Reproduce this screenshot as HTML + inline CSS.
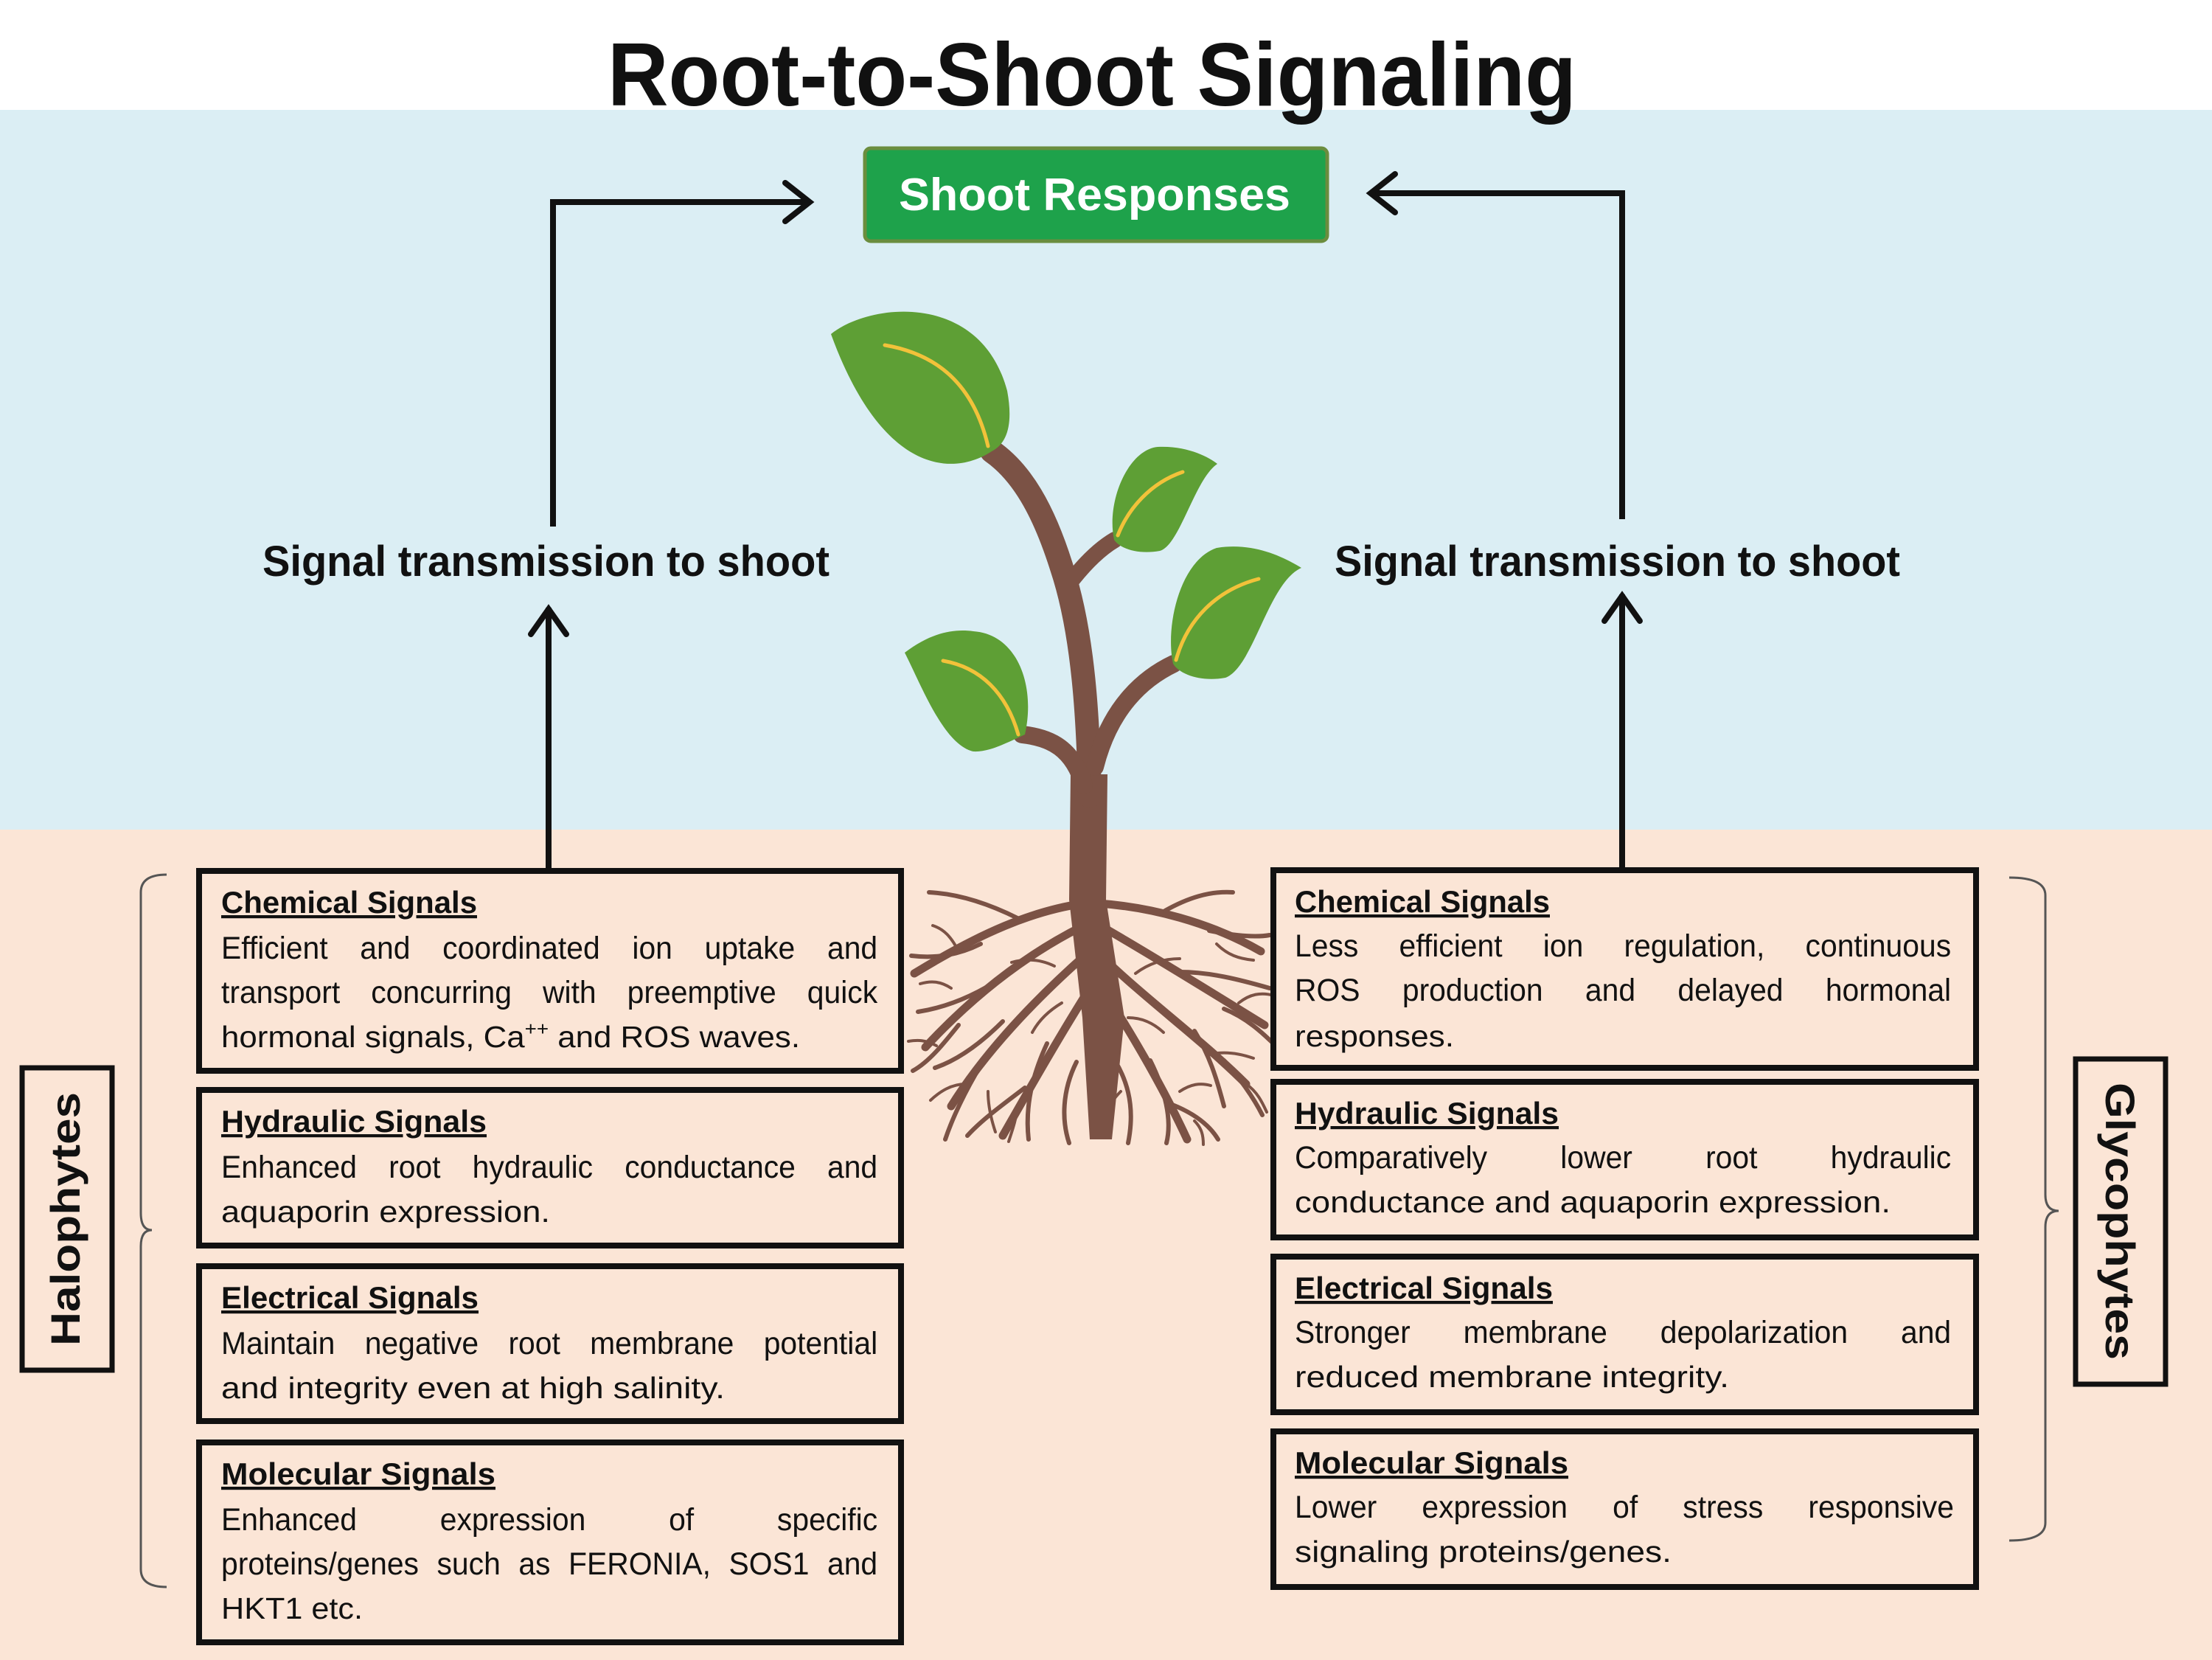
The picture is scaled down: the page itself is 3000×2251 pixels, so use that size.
<!DOCTYPE html>
<html><head><meta charset="utf-8"><style>
html,body{margin:0;padding:0;background:#fff}
#w{position:relative;width:3000px;height:2251px;overflow:hidden}
svg{display:block;position:absolute;left:0;top:0}
text{font-family:"Liberation Sans",sans-serif;fill:#111}
.h{font-weight:bold;font-size:42px;text-decoration:underline}
.b{font-size:41px}
.j{position:absolute;width:937px;font-family:"Liberation Sans",sans-serif;font-size:43px;line-height:46px;color:#111;text-align:justify;text-align-last:justify;height:46px;transform:scaleX(0.95);transform-origin:0 0}
</style></head><body><div id="w">
<svg width="3000" height="2251" viewBox="0 0 3000 2251" xmlns="http://www.w3.org/2000/svg">
<rect x="0" y="0" width="3000" height="2251" fill="#fff"/>
<rect x="0" y="149" width="3000" height="977" fill="#dbeef4"/>
<rect x="0" y="1125" width="3000" height="1126" fill="#fbe5d6"/>

<text x="824" y="143" font-size="122" font-weight="bold" textLength="1314" lengthAdjust="spacingAndGlyphs">Root-to-Shoot Signaling</text>

<rect x="1173" y="201" width="627" height="126" rx="8" fill="#1ea24b" stroke="#6b8d3e" stroke-width="5"/>
<text x="1219" y="285" font-size="62" font-weight="bold" style="fill:#fff" textLength="531" lengthAdjust="spacingAndGlyphs">Shoot Responses</text>

<g fill="none" stroke="#111" stroke-width="8" stroke-linecap="square">
<polyline points="750,710 750,274 1095,274"/>
<polyline points="1065,248 1098,274 1065,300" stroke-linecap="round"/>
<polyline points="2200,700 2200,262 1862,262"/>
<polyline points="1892,236 1859,262 1892,288" stroke-linecap="round"/>
<line x1="744" y1="1178" x2="744" y2="828"/>
<polyline points="720,860 744,826 768,860" stroke-linecap="round"/>
<line x1="2200" y1="1172" x2="2200" y2="810"/>
<polyline points="2176,842 2200,808 2224,842" stroke-linecap="round"/>
</g>

<text x="356" y="781" font-size="58" font-weight="bold" textLength="769" lengthAdjust="spacingAndGlyphs">Signal transmission  to shoot</text>
<text x="1810" y="781" font-size="58" font-weight="bold" textLength="767" lengthAdjust="spacingAndGlyphs">Signal transmission  to shoot</text>

<g fill="none" stroke="#7b5245" stroke-linecap="round">
<g stroke-width="11">
<path d="M1470,1225 C1400,1235 1330,1265 1240,1320"/>
<path d="M1470,1255 C1390,1295 1320,1350 1255,1420"/>
<path d="M1472,1295 C1410,1350 1340,1420 1290,1500"/>
<path d="M1478,1340 C1440,1400 1400,1470 1360,1540"/>
<path d="M1490,1225 C1560,1230 1640,1250 1710,1290"/>
<path d="M1492,1255 C1570,1300 1650,1350 1715,1390"/>
<path d="M1492,1295 C1560,1360 1630,1410 1690,1470"/>
<path d="M1495,1340 C1540,1410 1580,1480 1610,1545"/>
</g>
<g stroke-width="6">
<path d="M1380,1245 C1340,1225 1300,1212 1260,1210"/>
<path d="M1330,1280 C1300,1295 1270,1300 1236,1296"/>
<path d="M1360,1325 C1330,1345 1290,1365 1245,1372"/>
<path d="M1300,1390 C1280,1415 1260,1440 1238,1452"/>
<path d="M1360,1385 C1330,1415 1300,1437 1268,1448"/>
<path d="M1330,1445 C1310,1478 1292,1515 1282,1545"/>
<path d="M1420,1415 C1400,1458 1390,1500 1395,1545"/>
<path d="M1390,1475 C1360,1498 1332,1518 1312,1540"/>
<path d="M1580,1235 C1610,1218 1640,1208 1672,1210"/>
<path d="M1640,1262 C1670,1268 1700,1272 1722,1268"/>
<path d="M1600,1318 C1640,1318 1680,1328 1722,1340"/>
<path d="M1660,1368 C1690,1380 1712,1400 1732,1420"/>
<path d="M1620,1398 C1640,1430 1650,1462 1660,1500"/>
<path d="M1660,1438 C1680,1460 1700,1488 1712,1512"/>
<path d="M1560,1438 C1580,1478 1590,1518 1582,1550"/>
<path d="M1590,1498 C1620,1510 1640,1525 1652,1545"/>
<path d="M1500,1420 C1530,1460 1540,1500 1530,1550"/>
<path d="M1460,1440 C1440,1480 1440,1520 1450,1550"/>
</g>
<g stroke-width="4">
<path d="M1300,1290 C1290,1270 1280,1260 1265,1255"/>
<path d="M1290,1340 C1275,1330 1262,1330 1248,1334"/>
<path d="M1270,1418 C1255,1410 1245,1410 1232,1412"/>
<path d="M1310,1470 C1290,1470 1275,1480 1262,1492"/>
<path d="M1340,1480 C1340,1500 1345,1520 1350,1535"/>
<path d="M1380,1500 C1378,1520 1372,1535 1368,1548"/>
<path d="M1430,1310 C1410,1300 1390,1300 1372,1305"/>
<path d="M1440,1360 C1420,1372 1408,1385 1400,1400"/>
<path d="M1650,1280 C1665,1295 1680,1300 1700,1302"/>
<path d="M1680,1360 C1695,1348 1710,1345 1728,1350"/>
<path d="M1690,1470 C1705,1480 1712,1495 1718,1508"/>
<path d="M1640,1430 C1660,1425 1680,1428 1700,1435"/>
<path d="M1600,1480 C1615,1470 1628,1468 1642,1472"/>
<path d="M1540,1320 C1560,1305 1580,1300 1600,1300"/>
<path d="M1530,1380 C1550,1380 1565,1388 1578,1400"/>
<path d="M1520,1480 C1500,1500 1495,1520 1495,1540"/>
<path d="M1620,1520 C1630,1530 1632,1540 1632,1552"/>
</g>
</g>
<path d="M1452,1050 L1502,1050 L1500,1220 L1525,1380 L1508,1545 L1478,1545 L1468,1380 L1450,1220 Z" fill="#7b5245"/>
<g fill="none" stroke="#7b5245" stroke-linecap="round">
<path d="M1478,1080 C1476,980 1470,860 1440,770 C1415,690 1385,640 1345,612" stroke-width="32"/>
<path d="M1455,785 C1475,760 1495,742 1512,732" stroke-width="22"/>
<path d="M1485,1040 C1505,960 1550,920 1592,900" stroke-width="24"/>
<path d="M1470,1065 C1455,1015 1425,1000 1386,996" stroke-width="24"/>
</g>
<g fill="#5e9f35">
<path d="M1127,453 C1180,410 1330,395 1366,530 Q1378,595 1345,612 C1290,648 1195,640 1127,453 Z"/>
<path d="M1511,732 C1500,680 1530,610 1570,606 C1610,604 1640,620 1651,629 C1620,650 1600,740 1573,747 C1545,752 1520,745 1511,732 Z"/>
<path d="M1591,900 C1580,850 1600,760 1650,743 C1700,735 1740,755 1765,770 C1720,790 1700,905 1662,919 C1630,925 1600,915 1591,900 Z"/>
<path d="M1227,885 C1260,860 1290,852 1320,856 C1380,860 1405,930 1390,996 C1360,1010 1340,1020 1320,1019 C1280,1010 1250,930 1227,885 Z"/>
</g>
<g fill="none" stroke="#f2c23a" stroke-width="5" stroke-linecap="round">
<path d="M1200,468 C1270,480 1320,520 1340,605"/>
<path d="M1604,640 C1560,655 1530,690 1516,726"/>
<path d="M1707,785 C1650,800 1610,840 1595,895"/>
<path d="M1279,896 C1330,905 1365,940 1381,996"/>
</g>

<g fill="none" stroke="#555" stroke-width="3">
<path d="M226,1186 Q191,1186 191,1210 L191,1645 Q191,1668 206,1668 Q191,1668 191,1690 L191,2128 Q191,2152 226,2152"/>
<path d="M2725,1190 Q2774,1190 2774,1214 L2774,1620 Q2774,1642 2792,1642 Q2774,1642 2774,1664 L2774,2065 Q2774,2089 2725,2089"/>
</g>

<rect x="30" y="1448" width="122" height="410" fill="#fbe5d6" stroke="#111" stroke-width="7"/>
<text transform="translate(108,1653) rotate(-90)" text-anchor="middle" font-size="56" font-weight="bold" textLength="344" lengthAdjust="spacingAndGlyphs">Halophytes</text>
<rect x="2815" y="1436" width="122" height="441" fill="#fbe5d6" stroke="#111" stroke-width="7"/>
<text transform="translate(2856,1656) rotate(90)" text-anchor="middle" font-size="56" font-weight="bold" textLength="376" lengthAdjust="spacingAndGlyphs">Glycophytes</text>

<g fill="#fbe5d6" stroke="#111" stroke-width="8">
<rect x="270" y="1181" width="952" height="271"/>
<rect x="270" y="1478" width="952" height="211"/>
<rect x="270" y="1717" width="952" height="210"/>
<rect x="270" y="1956" width="952" height="271"/>
<rect x="1727" y="1180" width="953" height="268"/>
<rect x="1727" y="1467" width="953" height="211"/>
<rect x="1727" y="1704" width="953" height="211"/>
<rect x="1727" y="1941" width="953" height="211"/>
</g>

<text class="h" x="300" y="1238" textLength="347" lengthAdjust="spacingAndGlyphs">Chemical Signals</text>
<text class="b" x="300" y="1420" textLength="785" lengthAdjust="spacingAndGlyphs">hormonal  signals, Ca<tspan font-size="26" dy="-16">++</tspan><tspan dy="16"> and ROS waves.</tspan></text>

<text class="h" x="300" y="1535" textLength="360" lengthAdjust="spacingAndGlyphs">Hydraulic Signals</text>
<text class="b" x="300" y="1657" textLength="446" lengthAdjust="spacingAndGlyphs">aquaporin expression.</text>

<text class="h" x="300" y="1774" textLength="349" lengthAdjust="spacingAndGlyphs">Electrical Signals</text>
<text class="b" x="300" y="1896" textLength="683" lengthAdjust="spacingAndGlyphs">and integrity even at high salinity.</text>

<text class="h" x="300" y="2013" textLength="372" lengthAdjust="spacingAndGlyphs">Molecular Signals</text>
<text class="b" x="300" y="2195" textLength="192" lengthAdjust="spacingAndGlyphs">HKT1 etc.</text>

<text class="h" x="1756" y="1237" textLength="346" lengthAdjust="spacingAndGlyphs">Chemical Signals</text>
<text class="b" x="1756" y="1419" textLength="216" lengthAdjust="spacingAndGlyphs">responses.</text>

<text class="h" x="1756" y="1524" textLength="358" lengthAdjust="spacingAndGlyphs">Hydraulic Signals</text>
<text class="b" x="1756" y="1644" textLength="808" lengthAdjust="spacingAndGlyphs">conductance and aquaporin expression.</text>

<text class="h" x="1756" y="1761" textLength="350" lengthAdjust="spacingAndGlyphs">Electrical Signals</text>
<text class="b" x="1756" y="1881" textLength="589" lengthAdjust="spacingAndGlyphs">reduced membrane integrity.</text>

<text class="h" x="1756" y="1998" textLength="371" lengthAdjust="spacingAndGlyphs">Molecular Signals</text>
<text class="b" x="1756" y="2118" textLength="511" lengthAdjust="spacingAndGlyphs">signaling proteins/genes.</text>
</svg>

<div class="j" style="left:300px;top:1263px">Efficient and coordinated ion uptake and</div>
<div class="j" style="left:300px;top:1323px">transport concurring with preemptive quick</div>
<div class="j" style="left:300px;top:1560px">Enhanced root hydraulic conductance and</div>
<div class="j" style="left:300px;top:1799px">Maintain negative root membrane potential</div>
<div class="j" style="left:300px;top:2038px">Enhanced expression of specific</div>
<div class="j" style="left:300px;top:2098px">proteins/genes such as FERONIA, SOS1 and</div>

<div class="j" style="left:1756px;top:1260px">Less efficient ion regulation, continuous</div>
<div class="j" style="left:1756px;top:1320px">ROS production and delayed hormonal</div>
<div class="j" style="left:1756px;top:1547px">Comparatively lower root hydraulic</div>
<div class="j" style="left:1756px;top:1784px">Stronger membrane depolarization and</div>
<div class="j" style="left:1756px;top:2021px;width:941px">Lower expression of stress responsive</div>
</div>
</body></html>
